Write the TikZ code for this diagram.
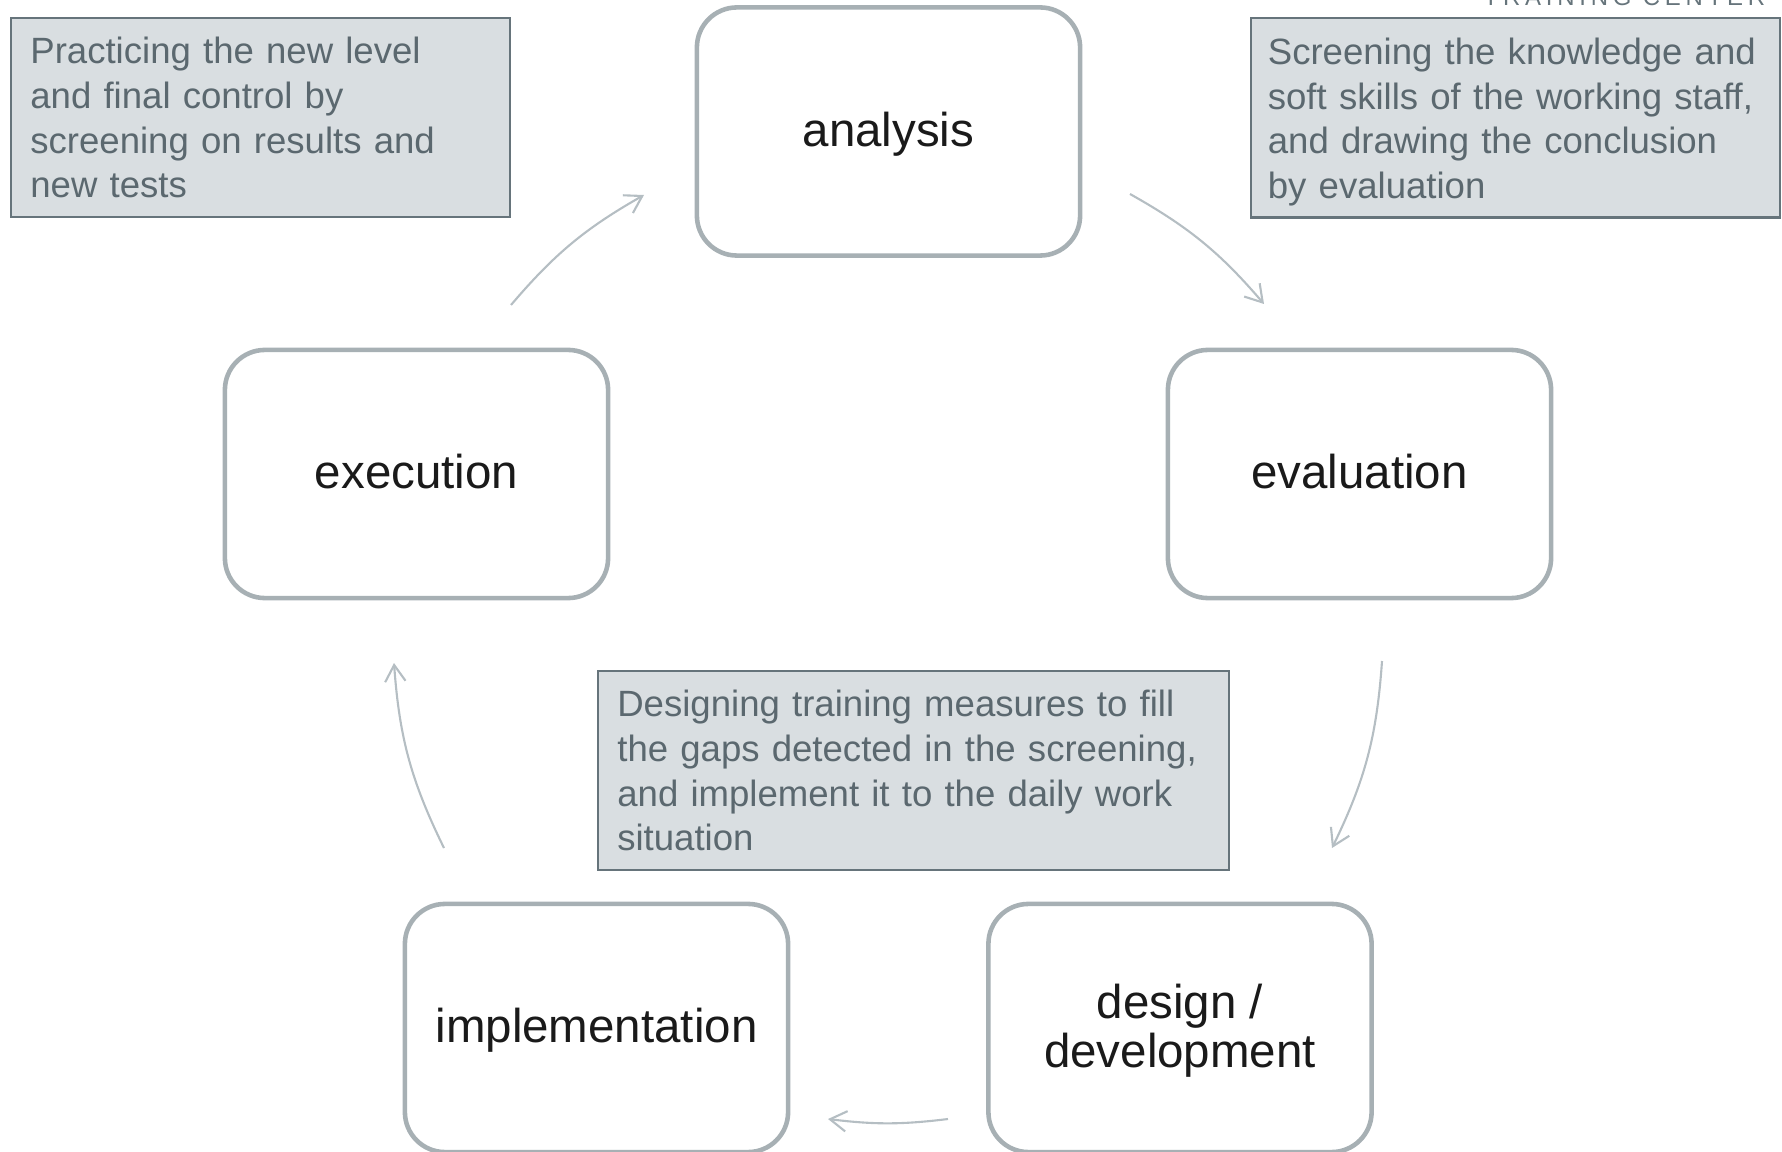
\documentclass[tikz,border=0pt]{standalone}
\usepackage{fontspec}
\setmainfont{Liberation Sans}
\usetikzlibrary{arrows.meta}
\definecolor{boxline}{HTML}{A7B0B4}
\definecolor{notefill}{HTML}{D9DEE1}
\definecolor{noteline}{HTML}{66747B}
\definecolor{notetext}{HTML}{5B686F}
\definecolor{arrowline}{HTML}{B5BEC3}
\definecolor{labeltext}{HTML}{1A1A1A}
\begin{document}
\begin{tikzpicture}[x=0.01cm,y=-0.01cm,
  stagebox/.style={draw=boxline,line width=1.3pt,rounded corners=0.4cm,fill=white,minimum width=3.83cm,minimum height=2.48cm,align=center,text=labeltext,text height=10.5pt,text depth=2pt,font=\fontsize{13.5}{14}\selectfont},
  notebox/.style={draw=noteline,line width=0.6pt,fill=notefill,text=notetext,align=left,minimum height=1.99cm,inner xsep=0.19cm,text height=7.6pt,text depth=38.1pt,font=\fontsize{10.4}{12.7}\selectfont},
  looparrow/.style={draw=arrowline,line width=0.6pt,-{Straight Barb[length=4.7pt,width=5.8pt]}}]
\useasboundingbox (0,0) rectangle (1782,1152);
\clip (0,0) rectangle (1782,1152);
\node[anchor=base west,inner sep=0,text=noteline,font=\fontsize{6.8}{7}\selectfont\addfontfeature{LetterSpace=20}] (brand) at (1483,6) {TRAINING CENTER};
\node[stagebox] (analysis) at (888.5,131.5) {analysis};
\node[stagebox] (evaluation) at (1359.5,474) {evaluation};
\node[stagebox,text height=24.5pt] (design) at (1180,1028) {design /\\development};
\node[stagebox] (implementation) at (596.5,1028) {implementation};
\node[stagebox] (execution) at (416.5,474) {execution};
\node[notebox,text width=4.6cm] (practice) at (260.5,117.5) {Practicing the new level\\and final control by\\screening on results and\\new tests};
\node[notebox,text width=4.95cm,inner xsep=0.17cm] (screening) at (1515.5,118) {Screening the knowledge and\\soft skills of the working staff,\\and drawing the conclusion\\by evaluation};
\node[notebox,text width=5.92cm] (designing) at (913.5,770.5) {Designing training measures to fill\\the gaps detected in the screening,\\and implement it to the daily work\\situation};
\coordinate (ae1) at (1130,194);
\coordinate (ae2) at (1264,304);
\coordinate (ed1) at (1382,661);
\coordinate (ed2) at (1332,848);
\coordinate (di1) at (948,1119);
\coordinate (di2) at (828,1119);
\coordinate (ie1) at (444,848);
\coordinate (ie2) at (394,663);
\coordinate (ea1) at (511,305);
\coordinate (ea2) at (644,195);
\draw[looparrow] (ae1) to[bend left=10] (ae2);
\draw[looparrow] (ed1) to[bend left=11] (ed2);
\draw[looparrow] (di1) to[bend left=7] (di2);
\draw[looparrow] (ie1) to[bend left=11] (ie2);
\draw[looparrow] (ea1) to[bend left=10] (ea2);
\end{tikzpicture}
\end{document}
